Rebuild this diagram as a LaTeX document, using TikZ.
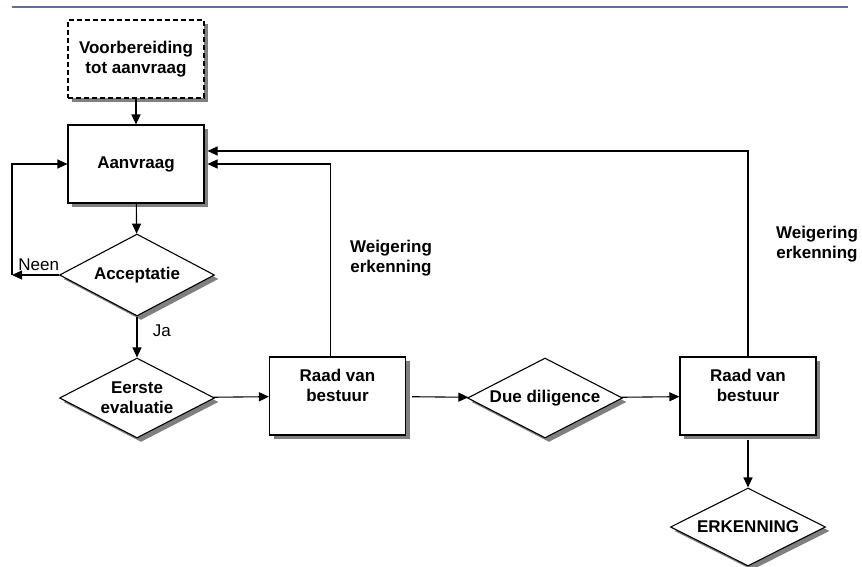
\documentclass[tikz,border=0pt]{standalone}
\usepackage{fontspec}
\setmainfont{Liberation Sans}
\usetikzlibrary{arrows.meta,positioning,calc,shapes.geometric,shadows}

\definecolor{ruleblue}{RGB}{100,108,165}

\begin{document}
\begin{tikzpicture}[x=1pt, y=-1pt,
        font=\fontsize{17}{20}\selectfont\bfseries,
        schaduw/.style={drop shadow={shadow xshift=4pt, shadow yshift=-4pt, fill=black!50, opacity=1}},
        box/.style={draw, fill=white, line width=1.1pt, align=center, minimum width=136, minimum height=78, schaduw},
        beslis/.style={diamond, draw, fill=white, line width=1.1pt, aspect=2, inner sep=0pt, align=center, minimum width=155, minimum height=80, schaduw},
        pijl/.style={line width=1.1pt, -{Triangle[length=10pt, width=9pt]}},
        gewoon/.style={font=\fontsize{17}{20}\selectfont}
    ]

        % Page frame and top rule
        \useasboundingbox (0,0) rectangle (862,566);
        \draw[ruleblue, line width=2pt] (12,7) -- (848,7);

        % Steps
        \node[box, dash pattern=on 5pt off 3pt] (voorb) at (136,59) {Voorbereiding\\tot aanvraag};
        \node[box] (aanvraag) at (136,164) {Aanvraag};
        \node[beslis, minimum height=82] (accept) at (137,275) {Acceptatie};
        \node[beslis] (eerste) at (137,398) {Eerste\\evaluatie};
        \node[box, label={[align=center, anchor=north, yshift=-9pt]north:{Raad van\\bestuur}}] (raadA) at (337.5,396) {};
        \node[beslis] (due) at (545,398) {Due diligence};
        \node[box, label={[align=center, anchor=north, yshift=-9pt]north:{Raad van\\bestuur}}] (raadB) at (748,396) {};
        \node[beslis, minimum height=78] (erkenning) at (748,527) {ERKENNING};

        % Labels
        \node[align=center] (weigA) at (391,258) {Weigering\\erkenning};
        \node[align=center] (weigB) at (817,244) {Weigering\\erkenning};
        \coordinate (lus) at (12,275);

        % Connectors
        \draw[pijl] (voorb) -- (aanvraag);
        \draw[pijl] (aanvraag) -- (accept);
        \draw[pijl] (accept) -- node[gewoon, right=12pt, pos=0.35] (ja) {Ja} (eerste);
        \draw[pijl] (accept.west) -- node[gewoon, above, pos=0.43] (neen) {Neen} (lus);
        \draw[pijl] (lus) |- (aanvraag.west);
        \draw[pijl] (eerste) -- (raadA);
        \draw[pijl, shorten <=6pt] (raadA) -- (due);
        \draw[pijl] (due) -- (raadB);
        \draw[pijl, shorten <=4pt] (raadB) -- (erkenning);
        \draw[pijl] ([xshift=-7pt]raadA.north) |- ([xshift=3pt]aanvraag.east);
        \draw[pijl] (raadB.north) |- ([xshift=3pt, yshift=13pt]aanvraag.east);
    \end{tikzpicture}
\end{document}
